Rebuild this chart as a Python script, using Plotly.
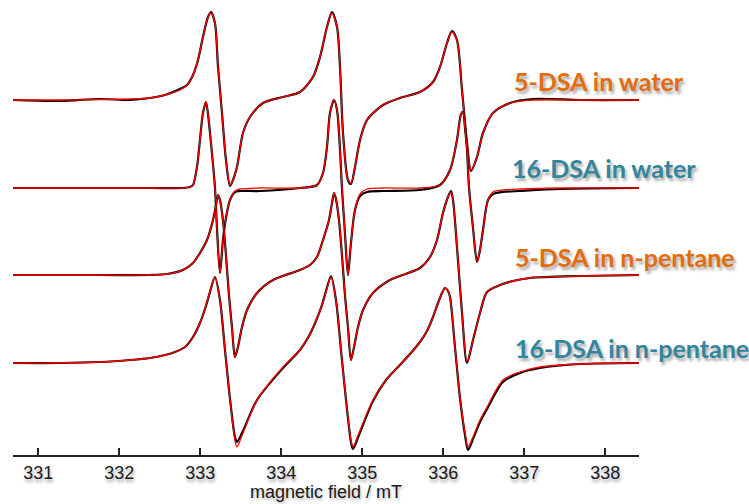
import plotly.graph_objects as go

# ---------------- data (magnetic field in mT, signal in arbitrary units) ----------------
labels = ["5-DSA in water", "16-DSA in water", "5-DSA in n-pentane", "16-DSA in n-pentane"]
offsets = [355, 267, 180, 92]
tick_vals = [331, 332, 333, 334, 335, 336, 337, 338]
tick_text = ["331", "332", "333", "334", "335", "336", "337", "338"]

field_5dsa_water = [330.688, 331.268, 331.762, 332.132, 332.379, 332.564, 332.749, 332.836, 332.910, 332.972,
                    333.033, 333.095, 333.132, 333.181, 333.219, 333.268, 333.317, 333.367, 333.404, 333.453,
                    333.527, 333.614, 333.774, 334.021, 334.231, 334.391, 334.478, 334.564, 334.626, 334.688,
                    334.725, 334.762, 334.823, 334.860, 334.910, 334.972, 335.058, 335.256, 335.465, 335.712,
                    335.873, 335.959, 336.046, 336.107, 336.169, 336.231, 336.293, 336.342, 336.416, 336.490,
                    336.614, 336.823, 337.107, 337.688, 338.416]
exp_5dsa_water = [0, -1, 1, 0, 2, 5, 11, 15, 25, 40,
                  63, 83, 88, 77, 33, -13, -60, -86, -80, -67,
                  -33, -17, -3, 3, 8, 23, 43, 73, 88, 73,
                  33, -33, -80, -84, -67, -40, -20, -5, 2, 8,
                  18, 33, 57, 69, 60, 10, -43, -71, -57, -33,
                  -13, -3, 1, 0, 0]
sim_5dsa_water = [0, 0, 0.5, 1, 2, 5, 10, 15, 25, 40,
                  63, 83, 87, 77, 33, -13, -60, -85, -80, -67,
                  -33, -17, -3, 3, 8, 23, 43, 73, 87, 73,
                  33, -33, -80, -83, -67, -40, -20, -5, 2, 8,
                  18, 33, 57, 68, 60, 10, -43, -70, -57, -33,
                  -13, -3, 0, 0, 0]

field_16dsa_water = [330.688, 331.762, 332.379, 332.786, 332.873, 332.910, 332.959, 332.996, 333.033, 333.070,
                     333.095, 333.120, 333.144, 333.181, 333.206, 333.243, 333.280, 333.317, 333.367, 333.428,
                     333.490, 333.737, 334.231, 334.441, 334.515, 334.564, 334.601, 334.651, 334.688, 334.725,
                     334.749, 334.786, 334.823, 334.860, 334.910, 334.972, 335.058, 335.256, 335.712, 335.959,
                     336.083, 336.169, 336.219, 336.243, 336.268, 336.293, 336.317, 336.367, 336.416, 336.453,
                     336.490, 336.552, 336.614, 336.737, 336.947, 337.441, 338.416]
exp_16dsa_water = [0, 0, 0, 0, 1, 3, 21, 48, 75, 86,
                   74, 55, 35, 1, -40, -85, -52, -30, -12, -4,
                   -3, -3, 0, 3, 15, 41, 75, 88, 78, 38,
                   0, -45, -87, -55, -22, -8, -4, -3, -2, 3,
                   18, 48, 74, 76, 60, 38, 1, -40, -74, -62,
                   -42, -12, -6, -4, -3, -1, 0]
sim_16dsa_water = [0, 0, 0, 0, 1, 3, 21, 48, 75, 86,
                   74, 55, 35, 1, -40, -85, -52, -30, -12, -3,
                   -1, 0, 0, 3, 15, 41, 75, 88, 78, 38,
                   0, -45, -87, -55, -22, -6, -1, 0, 0, 3,
                   18, 48, 74, 76, 60, 38, 1, -40, -74, -62,
                   -42, -12, -4, -2, -1, 0, 0]

field_5dsa_pent = [330.688, 331.762, 332.379, 332.589, 332.786, 332.910, 332.996, 333.083, 333.157, 333.194,
                   333.219, 333.243, 333.280, 333.317, 333.354, 333.391, 333.428, 333.465, 333.515, 333.577,
                   333.700, 333.898, 334.231, 334.354, 334.441, 334.515, 334.589, 334.626, 334.651, 334.675,
                   334.712, 334.749, 334.786, 334.823, 334.860, 334.898, 334.947, 335.009, 335.132, 335.342,
                   335.712, 335.836, 335.922, 335.996, 336.058, 336.095, 336.120, 336.169, 336.231, 336.293,
                   336.367, 336.453, 336.540, 336.700, 336.860, 337.070, 337.688, 338.416]
exp_5dsa_pent = [0, 0, 0, 1, 5, 12, 22, 35, 55, 70,
                 80, 75, 55, 20, -20, -52, -82, -72, -52, -35,
                 -18, -5, 5, 10, 18, 35, 55, 72, 82, 76,
                 55, 20, -20, -52, -85, -72, -52, -35, -18, -5,
                 7, 18, 35, 62, 78, 84, 75, 28, -38, -88,
                 -65, -38, -17, -10, -6, -3, -1, 0]
sim_5dsa_pent = [0, 0, 0, 1, 5, 12, 22, 35, 55, 70,
                 80, 75, 55, 20, -20, -52, -82, -72, -52, -35,
                 -18, -5, 5, 10, 18, 35, 55, 72, 82, 76,
                 55, 20, -20, -52, -85, -72, -52, -35, -18, -5,
                 7, 18, 35, 62, 78, 83, 75, 28, -38, -87,
                 -65, -38, -17, -10, -6, -3, -1, 0]

field_16dsa_pent = [330.688, 331.268, 331.762, 332.132, 332.379, 332.564, 332.688, 332.811, 332.910, 332.996,
                    333.070, 333.120, 333.181, 333.243, 333.305, 333.367, 333.428, 333.453, 333.527, 333.700,
                    334.021, 334.231, 334.342, 334.428, 334.502, 334.552, 334.614, 334.675, 334.737, 334.799,
                    334.860, 334.885, 334.959, 335.132, 335.293, 335.453, 335.589, 335.712, 335.799, 335.873,
                    335.935, 335.984, 336.021, 336.058, 336.083, 336.144, 336.206, 336.268, 336.305, 336.367,
                    336.453, 336.540, 336.737, 336.947, 337.194, 337.688, 338.416]
exp_16dsa_pent = [0, 0, 1, 3, 5, 8, 11, 16, 26, 40,
                  57, 71, 86, 63, 13, -36, -74, -79, -68, -37,
                  -5, 13, 27, 42, 58, 72, 87, 63, 13, -37,
                  -79, -86, -72, -38, -17, -3, 9, 21, 32, 46,
                  60, 70, 75, 72, 66, 16, -35, -72, -87, -76,
                  -59, -46, -19, -10, -5, -1, 0]
sim_16dsa_pent = [0, 0, 1, 3, 5, 8, 11, 16, 26, 40,
                  58, 72, 86, 63, 13, -37, -77, -84, -70, -37,
                  -4, 13, 27, 42, 58, 71, 86, 63, 13, -37,
                  -77, -84, -70, -37, -17, -3, 9, 21, 32, 46,
                  60, 70, 75, 72, 66, 16, -34, -70, -84, -74,
                  -57, -44, -17, -9, -4, -1, 0]

fields = [field_5dsa_water, field_16dsa_water, field_5dsa_pent, field_16dsa_pent]
exps = [exp_5dsa_water, exp_16dsa_water, exp_5dsa_pent, exp_16dsa_pent]
sims = [sim_5dsa_water, sim_16dsa_water, sim_5dsa_pent, sim_16dsa_pent]

# ---------------- figure ----------------
label_colors = ["#E46C0A", "#31859C", "#E46C0A", "#31859C"]
label_pos = [(0.797, 0.823), (0.794, 0.630), (0.799, 0.436), (0.799, 0.235)]

fig = go.Figure()
for f, e, s, off in zip(fields, exps, sims, offsets):
    fig.add_trace(go.Scatter(x=f, y=[v + off for v in e], mode="lines",
                             line=dict(color="black", width=2.2, shape="spline", smoothing=0.8),
                             hoverinfo="skip", showlegend=False))
    fig.add_trace(go.Scatter(x=f, y=[v + off for v in s], mode="lines",
                             line=dict(color="#FF0000", width=1.3, shape="spline", smoothing=0.8),
                             hoverinfo="skip", showlegend=False))

for lab, col, (px, py) in zip(labels, label_colors, label_pos):
    fig.add_annotation(x=px, y=py, xref="paper", yref="paper", text="<b>" + lab + "</b>",
                       showarrow=False, xanchor="left", yanchor="middle",
                       font=dict(family="Lato", size=25, color=col,
                                 shadow="2px 3px 3px rgba(0,0,0,0.35)"))

fig.update_layout(
    width=749, height=504,
    margin=dict(l=13, r=110, t=0, b=49),
    paper_bgcolor="white", plot_bgcolor="white",
    xaxis=dict(range=[330.688, 338.416], tickvals=tick_vals, ticktext=tick_text,
               ticks="inside", ticklen=7, tickwidth=1.5, tickcolor="#222",
               showline=True, linecolor="#222", linewidth=1.8, showgrid=False, zeroline=False,
               tickfont=dict(family="Liberation Sans Narrow, Liberation Sans", size=18, color="#1a1a1a",
                             shadow="1px 3px 3px rgba(0,0,0,0.35)"),
               title=dict(text="magnetic field / mT", standoff=2,
                          font=dict(family="Liberation Sans Narrow, Liberation Sans", size=18, color="#1a1a1a",
                                    shadow="1px 2px 3px rgba(0,0,0,0.3)"))),
    yaxis=dict(range=[0, 455], visible=False),
)

fig.write_html("out.html")
